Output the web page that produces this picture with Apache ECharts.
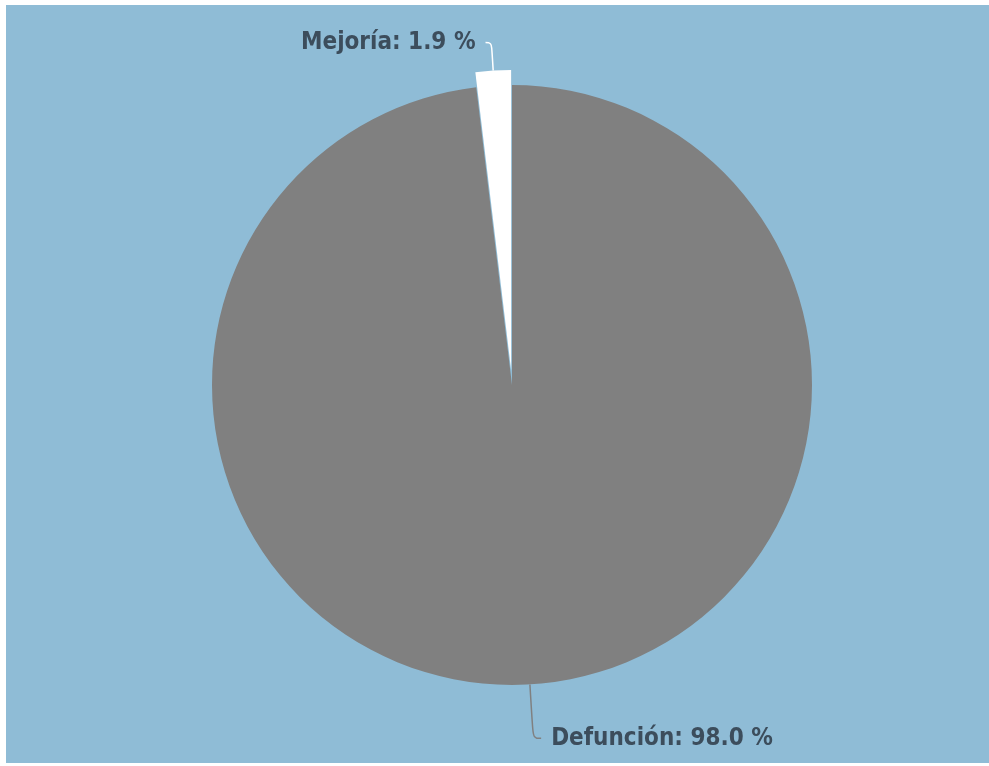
<!DOCTYPE html>
<html>
<head>
<meta charset="utf-8">
<script src="https://cdn.jsdelivr.net/npm/echarts@6/dist/echarts.min.js"></script>
<style>
  html, body { margin: 0; padding: 0; background: #ffffff; }
  #chart { position: absolute; left: 6px; top: 5px; width: 983px; height: 758px; }
</style>
</head>
<body>
<div id="chart"></div>
<script>
// Outcome shares (percent)
const categories = ['Defunción', 'Mejoría'];
const values = [98.0, 1.9];
const sliceColors = ['#808080', '#ffffff'];

const chart = echarts.init(document.getElementById('chart'), null, { renderer: 'canvas' });

const data = categories.map((name, i) => ({
  name: name,
  value: values[i],
  itemStyle: { color: sliceColors[i] },
  selected: name === 'Mejoría',
  labelLine: name === 'Mejoría'
    ? { length: 28, length2: 6 }
    : { length: 54, length2: 8 }
}));

chart.setOption({
  backgroundColor: '#8fbcd6',
  animation: false,
  series: [{
    type: 'pie',
    center: [506, 380],
    radius: [0, 300],
    startAngle: 90,
    clockwise: true,
    selectedMode: 'single',
    selectedOffset: 15,
    avoidLabelOverlap: false,
    data: data,
    itemStyle: { borderWidth: 0 },
    label: {
      show: true,
      formatter: p => p.name + ': ' + p.value.toFixed(1) + ' %',
      color: '#3c4d5c',
      fontFamily: '"DejaVu Sans Condensed", sans-serif',
      fontWeight: 'bold',
      fontSize: 24,
      distanceToLabelLine: 10
    },
    labelLine: {
      show: true,
      smooth: 0.4,
      lineStyle: { width: 1.5 }
    },
    emphasis: { disabled: true }
  }]
});
</script>
</body>
</html>
